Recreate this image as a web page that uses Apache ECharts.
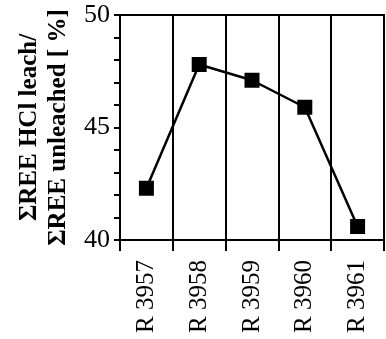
<!DOCTYPE html>
<html><head><meta charset="utf-8">
<script src="https://cdn.jsdelivr.net/npm/echarts@6/dist/echarts.min.js"></script>
<style>html,body{margin:0;padding:0;background:#fff}#c{width:386px;height:339px}</style>
</head><body><div id="c"></div>
<script>
const categories = ['R 3957','R 3958','R 3959','R 3960','R 3961'];
const values = [42.3, 47.8, 47.1, 45.9, 40.6];
const yTicks = [40, 45, 50];
const yName = 'ΣREE HCl leach/\nΣREE unleached [ %]';

const serif = 'Liberation Serif';
const chart = echarts.init(document.getElementById('c'), null, {renderer:'canvas'});
chart.setOption({
  animation:false,
  backgroundColor:'#fff',
  grid:{left:120, right:2, top:15, bottom:99, show:true, borderColor:'#000', borderWidth:2, backgroundColor:'transparent'},
  xAxis:{
    type:'category', data:categories, boundaryGap:true,
    axisLine:{lineStyle:{color:'#000', width:2}},
    axisTick:{show:true, length:11, inside:false, lineStyle:{color:'#000', width:2}},
    axisLabel:{rotate:90, color:'#000', fontFamily:serif, fontSize:25, margin:20},
    splitLine:{show:true, lineStyle:{color:'#000', width:2}}
  },
  yAxis:{
    type:'value', min:yTicks[0], max:yTicks[yTicks.length-1], interval:5,
    name:yName, nameLocation:'middle', nameRotate:90, nameGap:44,
    nameTextStyle:{color:'#000', fontFamily:serif, fontSize:25, fontWeight:'bold', lineHeight:29},
    axisLine:{show:true, lineStyle:{color:'#000', width:2}},
    axisTick:{show:true, length:6, lineStyle:{color:'#000', width:2}},
    minorTick:{show:true, splitNumber:5, length:6, lineStyle:{color:'#000', width:2}},
    axisLabel:{color:'#000', fontFamily:serif, fontSize:26, margin:10},
    splitLine:{show:false}
  },
  series:[{
    type:'line', data:values,
    symbol:'rect', symbolSize:15,
    lineStyle:{color:'#000', width:2.5},
    itemStyle:{color:'#000'}
  }]
});
</script></body></html>
